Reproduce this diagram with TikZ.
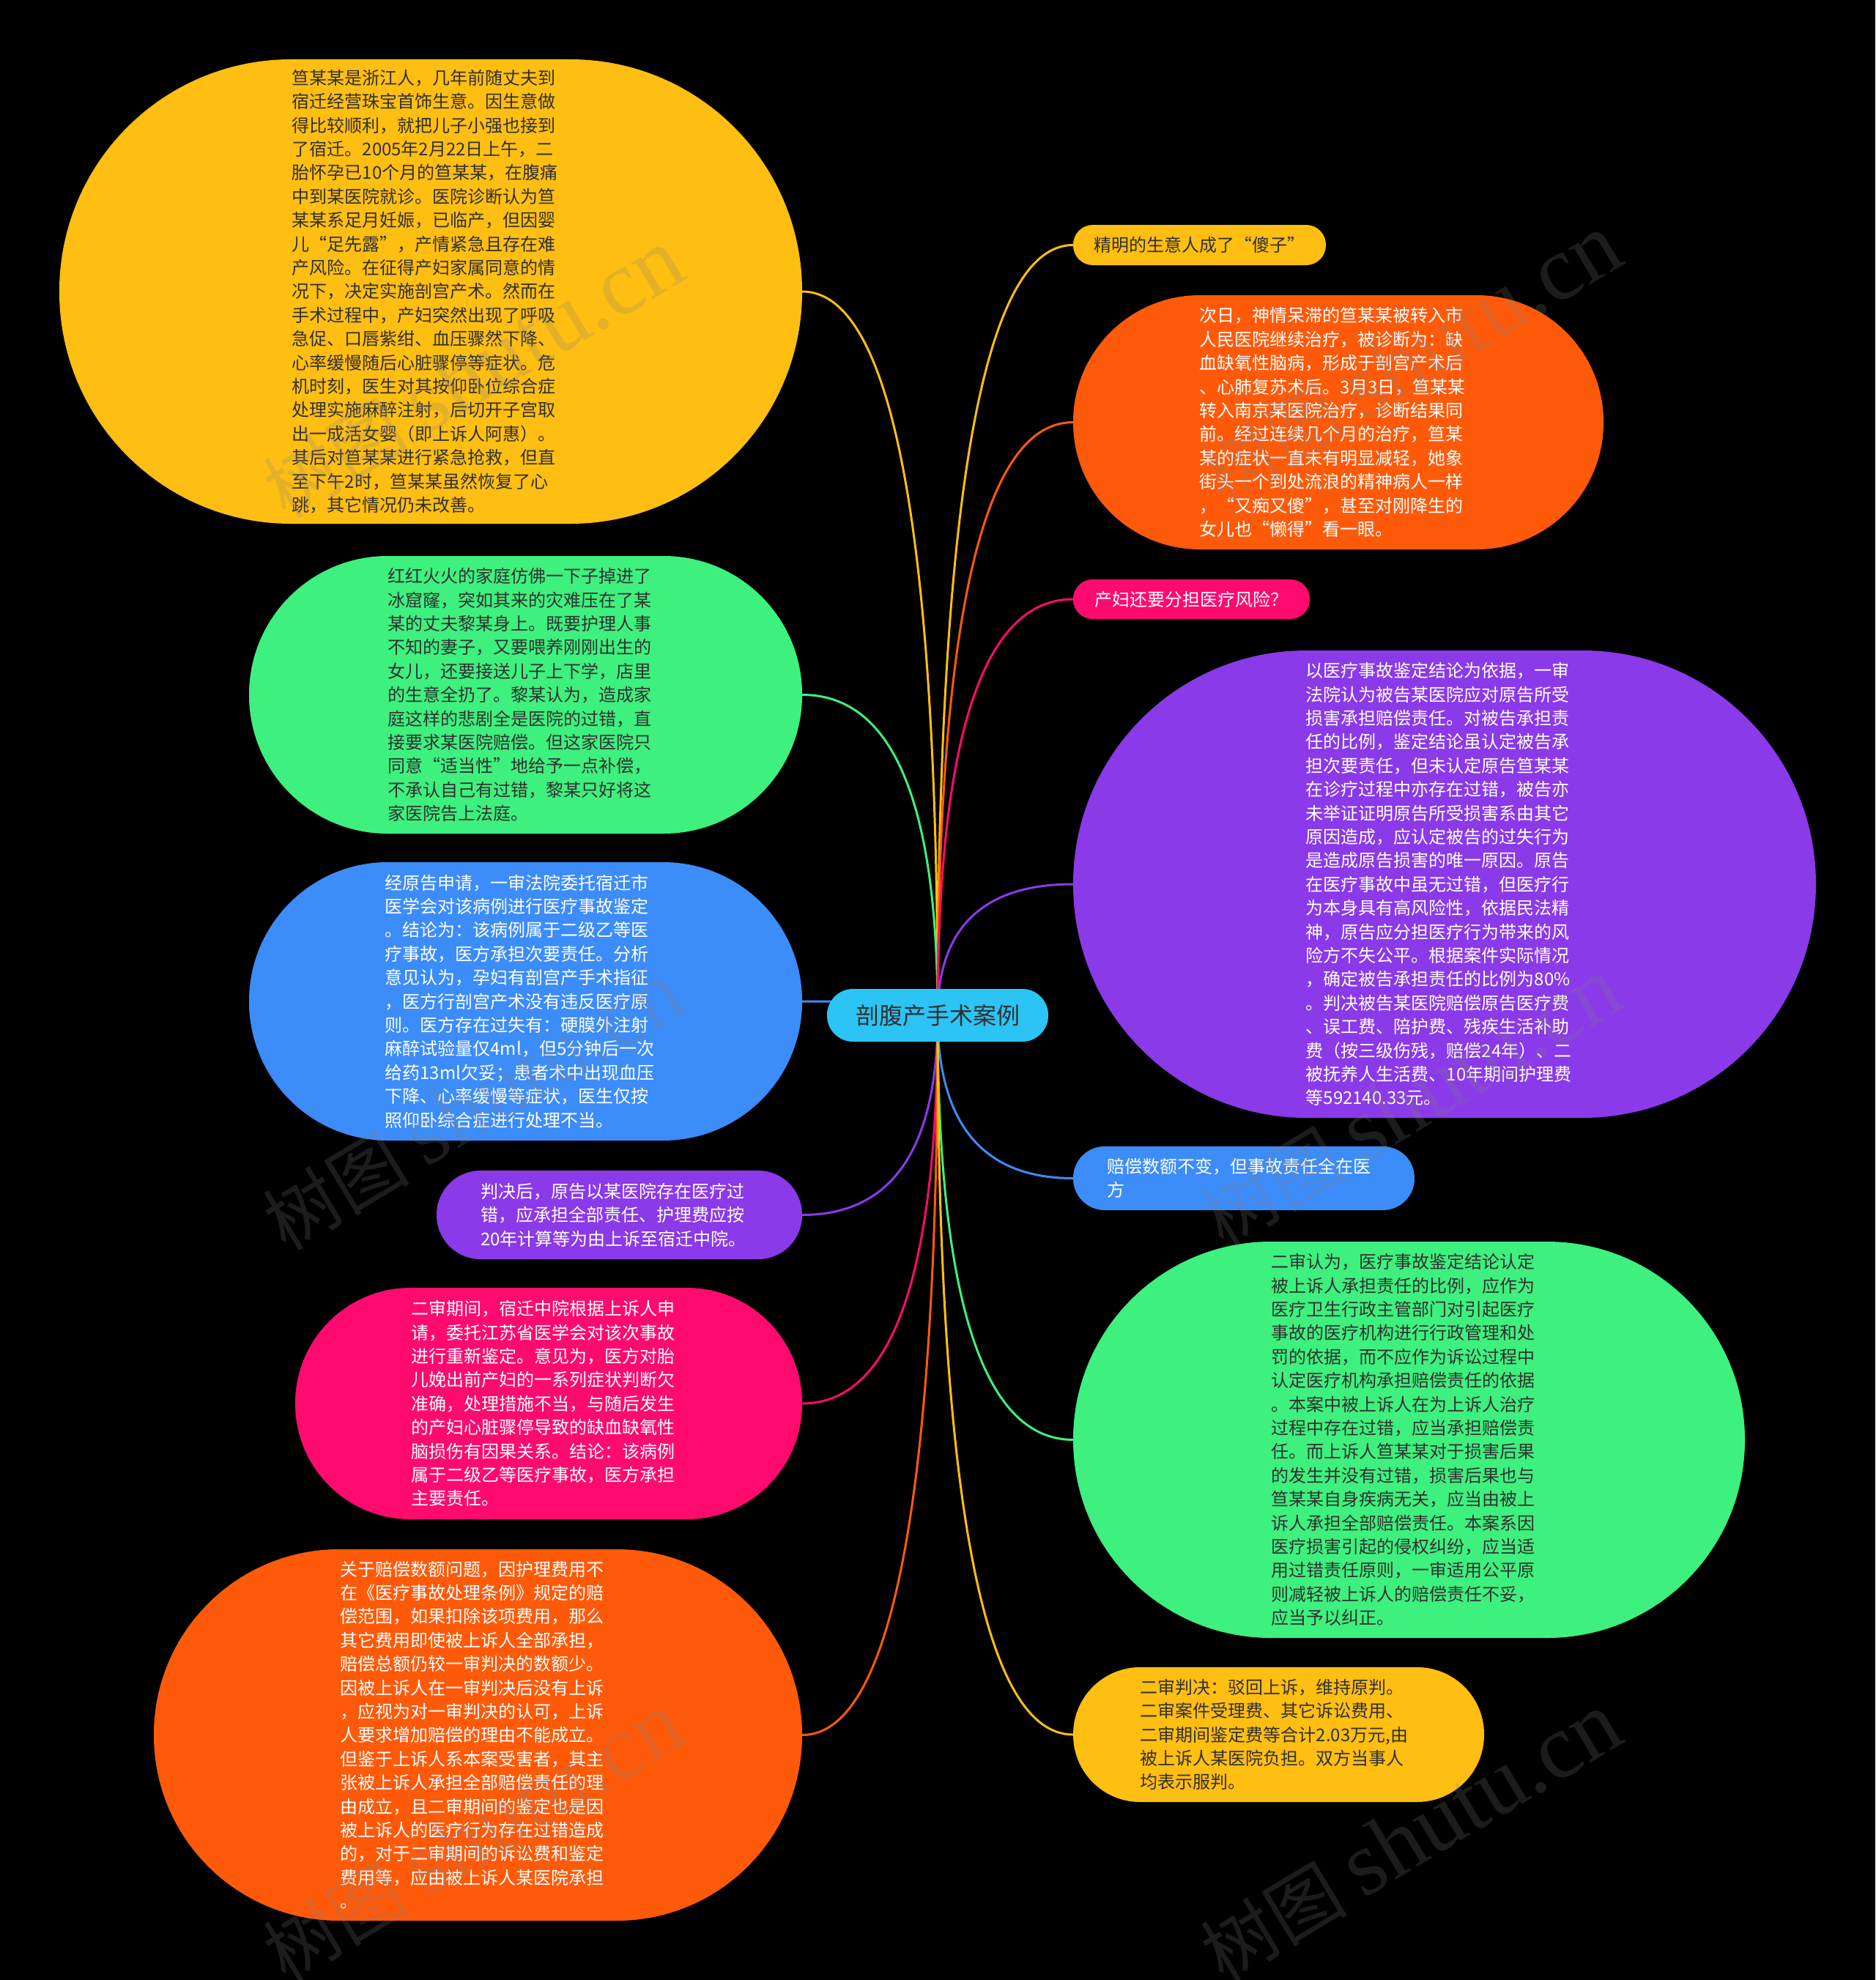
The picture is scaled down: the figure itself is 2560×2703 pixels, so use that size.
\documentclass[tikz,border=0pt]{standalone}
\usepackage{fontspec}
\setmainfont{Noto Sans CJK SC}
\newfontfamily\wmlatin{Liberation Serif}
\usetikzlibrary{calc}
\definecolor{cyel}{RGB}{255,190,18}
\definecolor{cora}{RGB}{255,90,10}
\definecolor{cgrn}{RGB}{62,240,126}
\definecolor{cblu}{RGB}{60,140,250}
\definecolor{cpur}{RGB}{138,58,232}
\definecolor{cpnk}{RGB}{255,10,110}
\definecolor{ccen}{RGB}{44,196,244}
\definecolor{cdark}{RGB}{48,48,48}
\pgfdeclarelayer{bg}
\pgfsetlayers{bg,main}
\tikzset{
  pill/.style={inner sep=0pt},
  box/.style={inner sep=0pt, align=left, font=\fontsize{24}{32.4}\selectfont},
  conn/.style={line width=3pt, line cap=round},
  wm/.style={opacity=0.22, text=gray, rotate=31, inner sep=0pt},
}
\newcommand\linkL[2]{%
  \coordinate (k#1) at (c.center |- #1.east);
  \draw[conn, #2] (c.center) .. controls ($(c.center)!0.6667!(k#1)$) and ($(#1.east)!0.6667!(k#1)$) .. (#1.east);}
\newcommand\linkR[2]{%
  \coordinate (k#1) at (c.center |- #1.west);
  \draw[conn, #2] (c.center) .. controls ($(c.center)!0.6667!(k#1)$) and ($(#1.west)!0.6667!(k#1)$) .. (#1.west);}
\begin{document}
\begin{tikzpicture}[x=1pt,y=-1pt]
\useasboundingbox (0,0) rectangle (2560,2703);
\begin{pgfonlayer}{bg}
\fill[black] (0,0) rectangle (2560,2703);
\end{pgfonlayer}

% center
\node[box, fill=ccen, text=cdark, minimum width=302pt, minimum height=72pt, rounded corners=35.5pt, font=\fontsize{32}{36}\selectfont] (c) at (1280,1386) {剖腹产手术案例};

% left nodes
\node[pill, fill=cyel, minimum width=1014pt, minimum height=634pt, rounded corners=316.5pt] (n1) at (588,398) {};
\node[box, text=cdark] (t1) at ([xshift=-8pt]n1.center) {笪某某是浙江人，几年前随丈夫到\\
宿迁经营珠宝首饰生意。因生意做\\
得比较顺利，就把儿子小强也接到\\
了宿迁。2005年2月22日上午，二\\
胎怀孕已10个月的笪某某，在腹痛\\
中到某医院就诊。医院诊断认为笪\\
某某系足月妊娠，已临产，但因婴\\
儿“足先露”，产情紧急且存在难\\
产风险。在征得产妇家属同意的情\\
况下，决定实施剖宫产术。然而在\\
手术过程中，产妇突然出现了呼吸\\
急促、口唇紫绀、血压骤然下降、\\
心率缓慢随后心脏骤停等症状。危\\
机时刻，医生对其按仰卧位综合症\\
处理实施麻醉注射，后切开子宫取\\
出一成活女婴（即上诉人阿惠）。\\
其后对笪某某进行紧急抢救，但直\\
至下午2时，笪某某虽然恢复了心\\
跳，其它情况仍未改善。};

\node[pill, fill=cgrn, minimum width=755pt, minimum height=379pt, rounded corners=189pt] (n2) at (717.5,948.5) {};
\node[box, text=cdark] (t2) at ([xshift=-8pt]n2.center) {红红火火的家庭仿佛一下子掉进了\\
冰窟窿，突如其来的灾难压在了某\\
某的丈夫黎某身上。既要护理人事\\
不知的妻子，又要喂养刚刚出生的\\
女儿，还要接送儿子上下学，店里\\
的生意全扔了。黎某认为，造成家\\
庭这样的悲剧全是医院的过错，直\\
接要求某医院赔偿。但这家医院只\\
同意“适当性”地给予一点补偿，\\
不承认自己有过错，黎某只好将这\\
家医院告上法庭。};

\node[pill, fill=cblu, minimum width=755pt, minimum height=380pt, rounded corners=189.5pt] (n3) at (717.5,1367) {};
\node[box, text=white] (t3) at ([xshift=-8pt]n3.center) {经原告申请，一审法院委托宿迁市\\
医学会对该病例进行医疗事故鉴定\\
。结论为：该病例属于二级乙等医\\
疗事故，医方承担次要责任。分析\\
意见认为，孕妇有剖宫产手术指征\\
，医方行剖宫产术没有违反医疗原\\
则。医方存在过失有：硬膜外注射\\
麻醉试验量仅4ml，但5分钟后一次\\
给药13ml欠妥；患者术中出现血压\\
下降、心率缓慢等症状，医生仅按\\
照仰卧综合症进行处理不当。};

\node[pill, fill=cpur, minimum width=499pt, minimum height=121pt, rounded corners=60pt] (n4) at (845.5,1658.5) {};
\node[box, text=white] (t4) at ([xshift=-8pt]n4.center) {判决后，原告以某医院存在医疗过\\
错，应承担全部责任、护理费应按\\
20年计算等为由上诉至宿迁中院。};

\node[pill, fill=cpnk, minimum width=692pt, minimum height=316pt, rounded corners=157.5pt] (n5) at (749,1916) {};
\node[box, text=white] (t5) at ([xshift=-8pt]n5.center) {二审期间，宿迁中院根据上诉人申\\
请，委托江苏省医学会对该次事故\\
进行重新鉴定。意见为，医方对胎\\
儿娩出前产妇的一系列症状判断欠\\
准确，处理措施不当，与随后发生\\
的产妇心脏骤停导致的缺血缺氧性\\
脑损伤有因果关系。结论：该病例\\
属于二级乙等医疗事故，医方承担\\
主要责任。};

\node[pill, fill=cora, minimum width=885pt, minimum height=507pt, rounded corners=253pt] (n6) at (652.5,2368.5) {};
\node[box, text=white] (t6) at ([xshift=-8pt]n6.center) {关于赔偿数额问题，因护理费用不\\
在《医疗事故处理条例》规定的赔\\
偿范围，如果扣除该项费用，那么\\
其它费用即使被上诉人全部承担，\\
赔偿总额仍较一审判决的数额少。\\
因被上诉人在一审判决后没有上诉\\
，应视为对一审判决的认可，上诉\\
人要求增加赔偿的理由不能成立。\\
但鉴于上诉人系本案受害者，其主\\
张被上诉人承担全部赔偿责任的理\\
由成立，且二审期间的鉴定也是因\\
被上诉人的医疗行为存在过错造成\\
的，对于二审期间的诉讼费和鉴定\\
费用等，应由被上诉人某医院承担\\
。};

% right nodes
\node[pill, fill=cyel, minimum width=345pt, minimum height=55pt, rounded corners=27pt] (n8) at (1637.5,334.5) {};
\node[box, text=cdark] (t8) at (n8.center) {精明的生意人成了“傻子”};

\node[pill, fill=cora, minimum width=724pt, minimum height=347pt, rounded corners=173pt] (n9) at (1827,576.5) {};
\node[box, text=white] (t9) at ([xshift=-8pt]n9.center) {次日，神情呆滞的笪某某被转入市\\
人民医院继续治疗，被诊断为：缺\\
血缺氧性脑病，形成于剖宫产术后\\
、心肺复苏术后。3月3日，笪某某\\
转入南京某医院治疗，诊断结果同\\
前。经过连续几个月的治疗，笪某\\
某的症状一直未有明显减轻，她象\\
街头一个到处流浪的精神病人一样\\
，“又痴又傻”，甚至对刚降生的\\
女儿也“懒得”看一眼。};

\node[pill, fill=cpnk, minimum width=323pt, minimum height=54pt, rounded corners=26.5pt] (n10) at (1626.5,818) {};
\node[box, text=white] (t10) at (n10.center) {产妇还要分担医疗风险？};

\node[pill, fill=cpur, minimum width=1014pt, minimum height=638pt, rounded corners=318.5pt] (n11) at (1972,1207) {};
\node[box, text=white] (t11) at ([xshift=-8pt]n11.center) {以医疗事故鉴定结论为依据，一审\\
法院认为被告某医院应对原告所受\\
损害承担赔偿责任。对被告承担责\\
任的比例，鉴定结论虽认定被告承\\
担次要责任，但未认定原告笪某某\\
在诊疗过程中亦存在过错，被告亦\\
未举证证明原告所受损害系由其它\\
原因造成，应认定被告的过失行为\\
是造成原告损害的唯一原因。原告\\
在医疗事故中虽无过错，但医疗行\\
为本身具有高风险性，依据民法精\\
神，原告应分担医疗行为带来的风\\
险方不失公平。根据案件实际情况\\
，确定被告承担责任的比例为80\%\\
。判决被告某医院赔偿原告医疗费\\
、误工费、陪护费、残疾生活补助\\
费（按三级伤残，赔偿24年）、二\\
被抚养人生活费、10年期间护理费\\
等592140.33元。};

\node[pill, fill=cblu, minimum width=466pt, minimum height=87pt, rounded corners=43pt] (n12) at (1698,1608.5) {};
\node[box, text=white] (t12) at ([xshift=-7pt]n12.center) {赔偿数额不变，但事故责任全在医\\
方};

\node[pill, fill=cgrn, minimum width=917pt, minimum height=541pt, rounded corners=270pt] (n13) at (1923.5,1965.5) {};
\node[box, text=cdark] (t13) at ([xshift=-8pt]n13.center) {二审认为，医疗事故鉴定结论认定\\
被上诉人承担责任的比例，应作为\\
医疗卫生行政主管部门对引起医疗\\
事故的医疗机构进行行政管理和处\\
罚的依据，而不应作为诉讼过程中\\
认定医疗机构承担赔偿责任的依据\\
。本案中被上诉人在为上诉人治疗\\
过程中存在过错，应当承担赔偿责\\
任。而上诉人笪某某对于损害后果\\
的发生并没有过错，损害后果也与\\
笪某某自身疾病无关，应当由被上\\
诉人承担全部赔偿责任。本案系因\\
医疗损害引起的侵权纠纷，应当适\\
用过错责任原则，一审适用公平原\\
则减轻被上诉人的赔偿责任不妥，\\
应当予以纠正。};

\node[pill, fill=cyel, minimum width=561pt, minimum height=184pt, rounded corners=91.5pt] (n14) at (1745.5,2368) {};
\node[box, text=cdark] (t14) at ([xshift=-6pt]n14.center) {二审判决：驳回上诉，维持原判。\\
二审案件受理费、其它诉讼费用、\\
二审期间鉴定费等合计2.03万元,由\\
被上诉人某医院负担。双方当事人\\
均表示服判。};

% connectors
\begin{pgfonlayer}{bg}
\linkL{n1}{cyel}
\linkL{n2}{cgrn}
\linkL{n3}{cblu}
\linkL{n4}{cpur}
\linkL{n5}{cpnk}
\linkL{n6}{cora}
\linkR{n8}{cyel}
\linkR{n9}{cora}
\linkR{n10}{cpnk}
\linkR{n11}{cpur}
\linkR{n12}{cblu}
\linkR{n13}{cgrn}
\linkR{n14}{cyel}
\end{pgfonlayer}

% watermarks
\foreach \i/\wx/\wy in {1/646/510, 2/1926/490, 3/646/1510, 4/1926/1505, 5/646/2508, 6/1926/2508}{
  \node[wm] (w\i) at (\wx,\wy) {\fontsize{100}{100}\selectfont 树图 {\wmlatin\fontsize{125}{125}\selectfont shutu.cn}};
}
\end{tikzpicture}
\end{document}
